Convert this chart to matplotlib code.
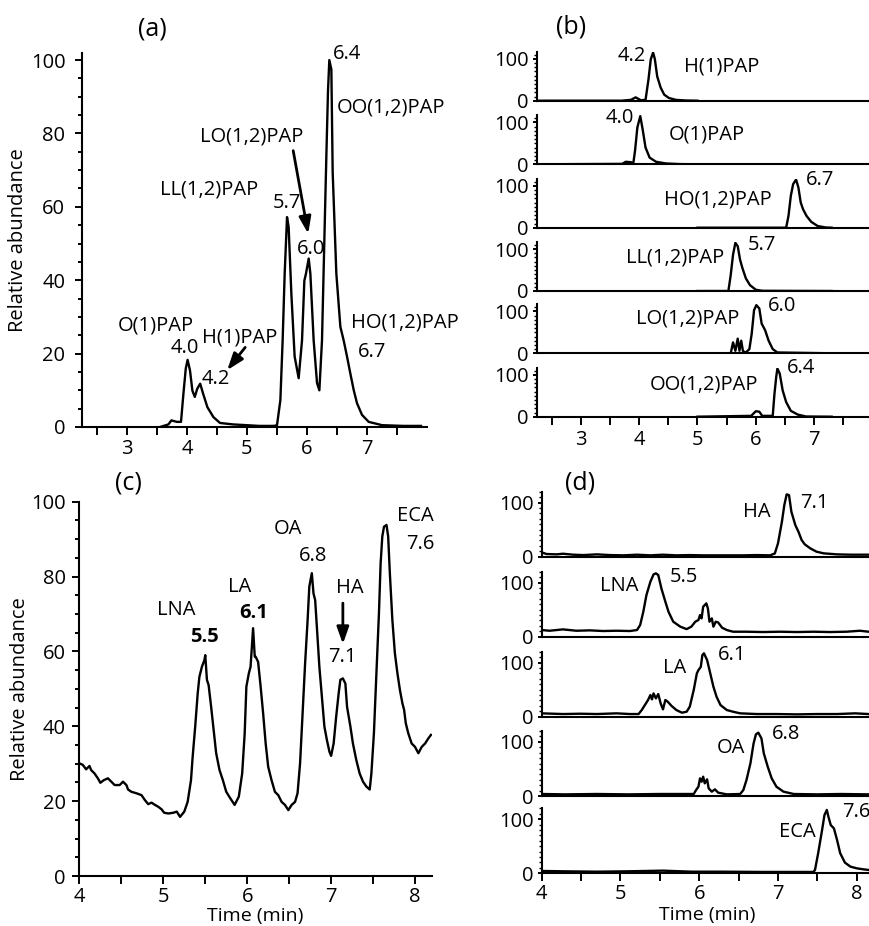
import matplotlib
matplotlib.use("Agg")
import matplotlib.pyplot as plt
from matplotlib.ticker import MultipleLocator, FixedLocator

plt.rcParams['font.family'] = ['Open Sans', 'DejaVu Sans']
plt.rcParams['font.size'] = 14.5
plt.rcParams['axes.linewidth'] = 1.5

W, H = 869, 926
fig = plt.figure(figsize=(W / 100, H / 100), dpi=100)
LW = 1.7
FS = 14.5
PFS = 18

# ---------------- data ----------------
# (a) total ion chromatogram of PAP species
a_time = [3.55, 3.69, 3.74, 3.83, 3.90, 3.94, 3.98, 4.01, 4.05, 4.09, 4.13, 4.17, 4.22,
          4.27, 4.34, 4.44, 4.55, 4.77, 4.99, 5.2, 5.45, 5.5, 5.556, 5.594, 5.628, 5.667,
          5.694, 5.739, 5.794, 5.861, 5.917, 5.956, 5.983, 6.028, 6.056, 6.111, 6.167,
          6.206, 6.25, 6.289, 6.322, 6.35, 6.372, 6.406, 6.428, 6.489, 6.556, 6.583,
          6.611, 6.667, 6.722, 6.778, 6.833, 6.917, 7.028, 7.25, 7.6, 7.9]
a_abund = [0, 0.7, 1.8, 1.4, 1.4, 9, 16, 18.3, 15.4, 9.9, 8.2, 10.4, 11.8,
           9, 5.4, 2.7, 1.1, 0.7, 0.5, 0.3, 0.3, 0.5, 7.3, 23.6, 41.8, 57.2,
           54.5, 36.4, 19.2, 13.3, 23.6, 39.9, 41.8, 45.9, 41.8, 23.6, 12.0,
           10.0, 23.6, 50.8, 73.5, 91.6, 100, 97.4, 69.4, 41.8, 27.3, 25.5,
           23.6, 19.2, 14.6, 10.1, 6.5, 3.3, 1.4, 0.5, 0.3, 0.3]

# (b) extracted ion chromatograms of each PAP species
b_names = ["H(1)PAP", "O(1)PAP", "HO(1,2)PAP", "LL(1,2)PAP", "LO(1,2)PAP", "OO(1,2)PAP"]
b_rt = ["4.2", "4.0", "6.7", "5.7", "6.0", "6.4"]
b_h1_time = [2.25, 3.7, 3.86, 3.94, 4.03, 4.11, 4.16, 4.2, 4.24, 4.27, 4.31, 4.37, 4.43, 4.51, 4.63, 4.8, 5.0]
b_h1_abund = [0, 0, 2, 8, 1, 2, 50, 99, 115, 99, 58, 31, 14.5, 6.5, 2, 0.5, 0]
b_o1_time = [2.25, 3.71, 3.77, 3.86, 3.9, 3.93, 3.97, 4.02, 4.06, 4.11, 4.18, 4.29, 4.46, 4.7, 5.0]
b_o1_abund = [0, 1, 6, 5, 2, 32, 88, 115, 84, 40, 16, 6, 2, 0.5, 0]
b_ho_time = [5.0, 6.52, 6.56, 6.6, 6.64, 6.69, 6.73, 6.77, 6.81, 6.87, 6.95, 7.06, 7.2, 7.3]
b_ho_abund = [0, 0, 28, 76, 104, 115, 96, 60, 44, 28, 14, 4, 0.5, 0]
b_ll_time = [5.0, 5.53, 5.57, 5.61, 5.65, 5.69, 5.73, 5.77, 5.83, 5.9, 6.0, 6.11, 7.3]
b_ll_abund = [0, 0, 38, 87, 115, 107, 75, 55, 30, 14, 3, 0.5, 0]
b_lo_time = [5.0, 5.57, 5.61, 5.65, 5.69, 5.72, 5.75, 5.78, 5.83, 5.89, 5.93, 5.97, 6.01,
             6.06, 6.1, 6.16, 6.22, 6.29, 6.37, 7.3]
b_lo_abund = [0, 0, 26, 6, 35, 6, 30, 5, 2, 10, 47, 103, 115, 107, 71, 55, 30, 10, 2, 0]
b_oo_time = [5.0, 5.92, 6.0, 6.06, 6.11, 6.29, 6.32, 6.35, 6.37, 6.41, 6.46, 6.52, 6.6, 6.72, 6.86, 7.3]
b_oo_abund = [0, 2, 13, 12, 2, 2, 55, 95, 115, 103, 63, 35, 14, 5, 0.5, 0]

# (c) total ion chromatogram of free fatty acids
c_time = [4.0, 4.04, 4.08, 4.12, 4.14, 4.18, 4.22, 4.25, 4.29, 4.34, 4.38, 4.42, 4.48, 4.52,
          4.56, 4.58, 4.62, 4.68, 4.74, 4.78, 4.82, 4.86, 4.9, 4.94, 4.98, 5.01, 5.06, 5.12,
          5.16, 5.2, 5.25, 5.29, 5.33, 5.35, 5.38, 5.41, 5.43, 5.46, 5.49, 5.5, 5.52, 5.54,
          5.57, 5.6, 5.63, 5.67, 5.71, 5.75, 5.8, 5.85, 5.9, 5.94, 5.97, 5.99, 6.02, 6.04,
          6.07, 6.09, 6.1, 6.13, 6.16, 6.19, 6.22, 6.25, 6.29, 6.33, 6.37, 6.41, 6.45, 6.49,
          6.53, 6.57, 6.6, 6.63, 6.66, 6.69, 6.72, 6.74, 6.77, 6.79, 6.81, 6.83, 6.86, 6.89,
          6.92, 6.95, 6.98, 7.0, 7.03, 7.06, 7.09, 7.11, 7.14, 7.17, 7.19, 7.23, 7.26, 7.3,
          7.34, 7.38, 7.42, 7.46, 7.48, 7.51, 7.54, 7.57, 7.59, 7.61, 7.63, 7.66, 7.68, 7.7,
          7.73, 7.76, 7.79, 7.82, 7.85, 7.87, 7.89, 7.92, 7.96, 8.0, 8.04, 8.08, 8.12, 8.16, 8.19]
c_abund = [30.1, 29.7, 28.5, 29.4, 28.3, 27.4, 26.1, 24.9, 25.6, 26.1, 25.2, 24.3, 24.3, 25.2,
           24.3, 23.1, 22.5, 22.1, 21.6, 20.3, 19.2, 19.6, 19.0, 18.5, 17.8, 16.9, 16.7, 16.9,
           17.2, 15.8, 17.2, 19.8, 25.6, 31.9, 39.9, 48.8, 53.2, 55.9, 57.7, 59.0, 52.4, 51.0,
           45.2, 39.0, 32.8, 28.3, 25.6, 22.5, 20.7, 19.0, 21.2, 27.4, 38.1, 50.6, 54.2, 55.9,
           66.2, 58.6, 58.6, 57.2, 50.6, 43.4, 35.4, 29.2, 25.6, 22.5, 21.6, 19.8, 19.0, 17.6,
           19.0, 19.8, 22.1, 30.1, 43.4, 56.8, 68.4, 77.3, 80.9, 75.5, 73.7, 66.6, 55.9, 47.9,
           39.9, 36.3, 33.2, 32.1, 35.4, 42.5, 48.8, 52.4, 52.8, 51.4, 45.2, 39.9, 35.4, 31.0,
           27.4, 25.2, 23.9, 23.1, 27.4, 38.1, 54.2, 70.2, 83.5, 90.7, 93.3, 93.8, 90.7, 80.9,
           68.4, 59.5, 54.2, 49.7, 46.1, 44.4, 40.8, 38.1, 35.4, 34.5, 32.8, 34.5, 35.4, 36.8, 37.7]

# (d) extracted ion chromatograms of each fatty acid
d_names = ["HA", "LNA", "LA", "OA", "ECA"]
d_rt = ["7.1", "5.5", "6.1", "6.8", "7.6"]
d_ha_time = [4.0, 4.06, 4.19, 4.27, 4.4, 4.53, 4.7, 4.87, 5.04, 5.21, 5.38, 5.54, 5.71, 5.88,
             6.05, 6.22, 6.39, 6.56, 6.73, 6.9, 6.96, 7.0, 7.05, 7.08, 7.11, 7.14, 7.17, 7.22,
             7.26, 7.3, 7.34, 7.41, 7.49, 7.58, 7.75, 7.92, 8.15]
d_ha_abund = [8, 5, 4.3, 5.5, 3.7, 3, 4.3, 3, 2.5, 3.7, 2.5, 3.7, 2.5, 3,
              2.5, 2.5, 2.5, 2.5, 3, 2.5, 6, 24.6, 64.6, 95, 115, 113.8, 83, 58.4,
              46, 30.8, 22.8, 15.4, 9.2, 6.2, 4.3, 3.7, 3.7]
d_lna_time = [4.0, 4.1, 4.27, 4.44, 4.61, 4.78, 4.95, 5.12, 5.21, 5.25, 5.29, 5.33, 5.38, 5.42,
              5.45, 5.48, 5.52, 5.57, 5.61, 5.67, 5.76, 5.84, 5.9, 5.95, 5.99, 6.01, 6.03, 6.05,
              6.09, 6.11, 6.13, 6.16, 6.18, 6.21, 6.24, 6.29, 6.35, 6.43, 6.6, 6.81, 7.03, 7.24,
              7.45, 7.66, 7.87, 8.04, 8.15]
d_lna_abund = [12.3, 11, 13.5, 11, 11.7, 10.5, 11, 10.5, 12.3, 21.5, 46, 77, 101.5, 115,
               117, 113.8, 89, 64.6, 46, 27.7, 18.5, 14, 18.5, 27.7, 30.8, 40, 33.8, 55.4,
               61.5, 52.3, 27.7, 33.8, 18.5, 27.7, 26.4, 16.6, 12.3, 9.2, 9.2, 8.6, 9.2, 8.6,
               9.2, 8.6, 9.2, 11, 9.2]
d_la_time = [4.0, 4.27, 4.49, 4.7, 4.95, 5.12, 5.23, 5.27, 5.31, 5.35, 5.38, 5.4, 5.42, 5.45,
             5.48, 5.51, 5.54, 5.57, 5.6, 5.65, 5.71, 5.78, 5.84, 5.88, 5.93, 5.97, 5.99, 6.02,
             6.04, 6.06, 6.1, 6.14, 6.18, 6.22, 6.27, 6.35, 6.43, 6.52, 6.73, 6.98, 7.24, 7.49,
             7.75, 7.98, 8.15]
d_la_abund = [6.2, 4.9, 5.5, 4.9, 6.2, 4.9, 4.9, 12.3, 21.5, 30.8, 40, 32, 43, 33.8,
              41.8, 24.6, 13.5, 30.8, 27.7, 19.7, 12.3, 7.4, 9.2, 18.5, 49.2, 80, 86, 92,
              113.8, 117, 104.6, 80, 55.4, 36.9, 21.5, 12.3, 9.2, 6.2, 4.9, 4.9, 4.3, 4.9,
              4.9, 6.2, 4.9]
d_oa_time = [4.0, 4.3, 4.7, 5.1, 5.5, 5.93, 5.96, 5.99, 6.01, 6.03, 6.05, 6.07, 6.1, 6.12,
             6.16, 6.2, 6.24, 6.35, 6.52, 6.56, 6.6, 6.65, 6.69, 6.72, 6.75, 6.79, 6.82, 6.87,
             6.92, 6.98, 7.07, 7.2, 7.5, 7.8, 8.15]
d_oa_abund = [3.7, 3, 3.7, 3, 3.7, 3.7, 11, 17.2, 32.6, 26.4, 35.7, 23.4, 30.8, 14.1,
              8, 12.3, 6.2, 3, 3.7, 11, 29.5, 60.3, 97, 113.8, 117, 106.4, 78.7, 54,
              32.6, 17.2, 8, 3.7, 3, 3.7, 3]
d_eca_time = [4.0, 4.27, 4.7, 5.1, 5.54, 5.9, 6.3, 6.8, 7.2, 7.45, 7.47, 7.51, 7.56, 7.59,
              7.62, 7.64, 7.67, 7.71, 7.75, 7.79, 7.85, 7.92, 8.0, 8.08, 8.15]
d_eca_abund = [4.3, 3.7, 3, 3.7, 4.9, 3, 3, 2.5, 2.5, 2.5, 6.2, 37, 80, 107.6,
               117, 104.6, 89, 83, 61.5, 37, 19.7, 12.3, 9.2, 7.4, 6.2]


# ---------------- helpers ----------------
def px_axes(left, right, top, bottom):
    return fig.add_axes([left / W, 1 - bottom / H, (right - left) / W, (bottom - top) / H])


def clean(ax):
    for s in ("top", "right"):
        ax.spines[s].set_visible(False)
    ax.tick_params(which="both", direction="out", width=1.4, labelsize=FS)


def arrow(ax, tail, head):
    ax.annotate("", xy=head, xytext=tail,
                arrowprops=dict(arrowstyle="-|>,head_length=0.7,head_width=0.25",
                                lw=2.0, color="black", shrinkA=0, shrinkB=0))


# ---------------- (a) ----------------
ax = px_axes(82, 427, 52.7, 427)
clean(ax)
ax.plot(a_time, a_abund, color="black", lw=LW)
ax.set_xlim(2.25, 8.0)
ax.set_ylim(0, 102)
ax.xaxis.set_major_locator(FixedLocator([3, 4, 5, 6, 7]))
ax.xaxis.set_minor_locator(FixedLocator([2.5, 3.5, 4.5, 5.5, 6.5, 7.5]))
ax.yaxis.set_major_locator(FixedLocator([0, 20, 40, 60, 80, 100]))
ax.yaxis.set_minor_locator(MultipleLocator(5))
ax.tick_params(axis="x", which="both", length=6, pad=2.5)
ax.tick_params(axis="y", which="major", length=5, pad=7)
ax.tick_params(axis="y", which="minor", length=3)
ax.set_ylabel("Relative abundance", fontsize=FS)
ax.yaxis.set_label_coords(-0.186, 0.5)
ax.yaxis.label.set_va("center")
ax.text(3.43, 108.4, "(a)", fontsize=PFS, ha="center", va="center")
ax.text(6.43, 101.6, "6.4", ha="left", va="center", fontsize=FS)
ax.text(6.5, 87, "OO(1,2)PAP", ha="left", va="center", fontsize=FS)
ax.text(4.22, 79.3, "LO(1,2)PAP", ha="left", va="center", fontsize=FS)
ax.text(3.55, 64.7, "LL(1,2)PAP", ha="left", va="center", fontsize=FS)
ax.text(5.43, 61.1, "5.7", ha="left", va="center", fontsize=FS)
ax.text(5.83, 48.6, "6.0", ha="left", va="center", fontsize=FS)
ax.text(6.73, 28.5, "HO(1,2)PAP", ha="left", va="center", fontsize=FS)
ax.text(6.85, 20.4, "6.7", ha="left", va="center", fontsize=FS)
ax.text(2.85, 27.7, "O(1)PAP", ha="left", va="center", fontsize=FS)
ax.text(3.72, 21.5, "4.0", ha="left", va="center", fontsize=FS)
ax.text(4.25, 24.5, "H(1)PAP", ha="left", va="center", fontsize=FS)
ax.text(4.25, 13.0, "4.2", ha="left", va="center", fontsize=FS)
arrow(ax, (5.77, 75.3), (6.02, 52.7))
arrow(ax, (4.97, 21.7), (4.67, 15.5))

# ---------------- (b) ----------------
b_traces = [(b_h1_time, b_h1_abund), (b_o1_time, b_o1_abund), (b_ho_time, b_ho_abund),
            (b_ll_time, b_ll_abund), (b_lo_time, b_lo_abund), (b_oo_time, b_oo_abund)]
b_zero = [100.7, 164.3, 227.7, 291.0, 353.3, 416.7]
b_text = [((4.115, 106), (4.77, 82)), ((3.91, 111), (4.5, 70.6)), ((6.86, 115), (4.43, 66.8)),
          ((5.87, 111), (3.77, 79)), ((6.2, 112), (3.95, 84)), ((6.54, 117), (4.19, 76))]
for i, ((t, v), z) in enumerate(zip(b_traces, b_zero)):
    ax = px_axes(537, 872.5, z - 49, z)
    clean(ax)
    ax.plot(t, v, color="black", lw=LW)
    ax.set_xlim(2.25, 8.0)
    ax.set_ylim(0, 117)
    ax.yaxis.set_major_locator(FixedLocator([0, 100]))
    ax.yaxis.set_minor_locator(MultipleLocator(10))
    ax.tick_params(axis="y", which="major", length=3, pad=3)
    ax.tick_params(axis="y", which="minor", length=2, width=1)
    (rx, ry), (nx, ny) = b_text[i]
    if i in (0, 1):
        ax.text(rx, ry, b_rt[i], ha="right", va="center", fontsize=FS)
    else:
        ax.text(rx, ry, b_rt[i], ha="left", va="center", fontsize=FS)
    ax.text(nx, ny, b_names[i], ha="left", va="center", fontsize=FS)
    if i == 5:
        ax.xaxis.set_major_locator(FixedLocator([3, 4, 5, 6, 7]))
        ax.xaxis.set_minor_locator(FixedLocator([2.5, 3.5, 4.5, 5.5, 6.5, 7.5]))
        ax.tick_params(axis="x", which="both", length=6, pad=3.5)
    else:
        ax.tick_params(axis="x", which="both", length=0, labelbottom=False)
    if i == 0:
        ax.text(2.83, 177, "(b)", fontsize=PFS, ha="center", va="center")

# ---------------- (c) ----------------
ax = px_axes(79.4, 431.8, 501.7, 876)
clean(ax)
ax.plot(c_time, c_abund, color="black", lw=LW)
ax.set_xlim(4.0, 8.2)
ax.set_ylim(0, 100)
ax.xaxis.set_major_locator(FixedLocator([4, 5, 6, 7, 8]))
ax.xaxis.set_minor_locator(FixedLocator([4.5, 5.5, 6.5, 7.5]))
ax.yaxis.set_major_locator(FixedLocator([0, 20, 40, 60, 80, 100]))
ax.yaxis.set_minor_locator(MultipleLocator(5))
ax.tick_params(axis="x", which="both", length=6, pad=2)
ax.tick_params(axis="y", which="major", length=5, pad=5)
ax.tick_params(axis="y", which="minor", length=3)
ax.set_ylabel("Relative abundance", fontsize=FS)
ax.yaxis.set_label_coords(-0.169, 0.5)
ax.yaxis.label.set_va("center")
ax.set_xlabel("Time (min)", fontsize=14)
ax.xaxis.set_label_coords(0.5, -(915.5 - 876) / 374.3)
ax.xaxis.label.set_va("center")
ax.text(4.58, 104.9, "(c)", fontsize=PFS, ha="center", va="center")
ax.text(5.16, 71.1, "LNA", ha="center", va="center", fontsize=FS)
ax.text(5.49, 63.8, "5.5", ha="center", va="center", fontsize=FS, fontweight="bold")
ax.text(5.91, 77.3, "LA", ha="center", va="center", fontsize=FS)
ax.text(6.08, 70.2, "6.1", ha="center", va="center", fontsize=FS, fontweight="bold")
ax.text(6.49, 92.6, "OA", ha="center", va="center", fontsize=FS)
ax.text(6.78, 85.5, "6.8", ha="center", va="center", fontsize=FS)
ax.text(7.22, 76.9, "HA", ha="center", va="center", fontsize=FS)
ax.text(7.13, 58.4, "7.1", ha="center", va="center", fontsize=FS)
ax.text(8.0, 96.2, "ECA", ha="center", va="center", fontsize=FS)
ax.text(8.06, 88.7, "7.6", ha="center", va="center", fontsize=FS)
arrow(ax, (7.14, 72.9), (7.14, 62.0))

# ---------------- (d) ----------------
d_traces = [(d_ha_time, d_ha_abund), (d_lna_time, d_lna_abund), (d_la_time, d_la_abund),
            (d_oa_time, d_oa_abund), (d_eca_time, d_eca_abund)]
d_zero = [556.7, 636.7, 716.7, 796.0, 873.3]
d_text = [((6.73, 83), (7.28, 99.7)), ((4.99, 93.6), (5.63, 110.8)), ((5.69, 90.5), (6.24, 113.9)),
          ((6.4, 88), (6.92, 114.5)), ((7.25, 76.8), (7.81, 113.7))]
for i, ((t, v), z) in enumerate(zip(d_traces, d_zero)):
    ax = px_axes(541.7, 872.5, z - 65, z)
    clean(ax)
    ax.plot(t, v, color="black", lw=LW)
    ax.set_xlim(4.0, 8.2)
    ax.set_ylim(0, 120)
    ax.yaxis.set_major_locator(FixedLocator([0, 100]))
    ax.yaxis.set_minor_locator(MultipleLocator(10))
    ax.tick_params(axis="y", which="major", length=3, pad=3)
    ax.tick_params(axis="y", which="minor", length=2, width=1)
    (nx, ny), (rx, ry) = d_text[i]
    ax.text(nx, ny, d_names[i], ha="center", va="center", fontsize=FS)
    ax.text(rx, ry, d_rt[i], ha="left", va="center", fontsize=FS)
    if i == 4:
        ax.xaxis.set_major_locator(FixedLocator([4, 5, 6, 7, 8]))
        ax.xaxis.set_minor_locator(FixedLocator([4.5, 5.5, 6.5, 7.5]))
        ax.tick_params(axis="x", which="both", length=6, pad=2)
        ax.set_xlabel("Time (min)", fontsize=14)
        ax.xaxis.set_label_coords(0.5, -(915.0 - 873.3) / 65)
        ax.xaxis.label.set_va("center")
    else:
        ax.tick_params(axis="x", which="both", length=0, labelbottom=False)
    if i == 0:
        ax.text(4.49, 135.5, "(d)", fontsize=PFS, ha="center", va="center")

fig.savefig("out.png", dpi=100)
